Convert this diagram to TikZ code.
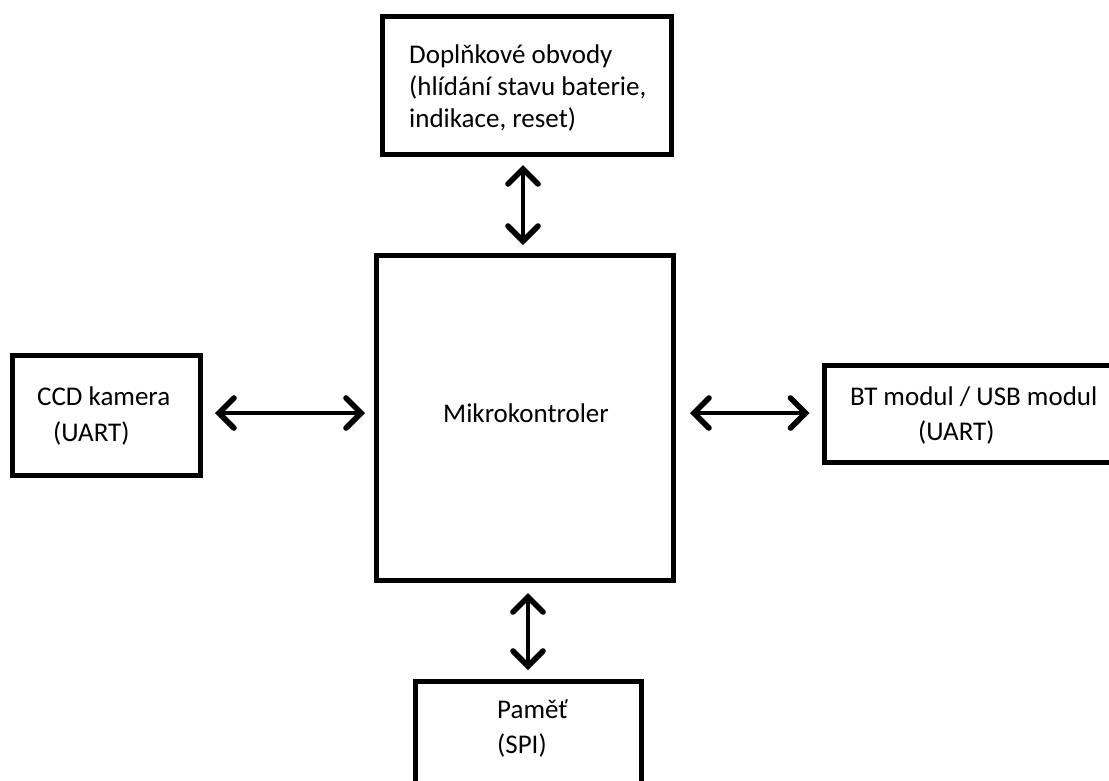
\documentclass[tikz,border=0pt]{standalone}
\usepackage{fontspec}
\setmainfont{Carlito}
\usetikzlibrary{arrows.meta,calc}
\begin{document}
\begin{tikzpicture}[x=1pt,y=-1pt,
  box/.style={draw=black,line width=5pt,inner sep=0pt,fill=none},
  lbl/.style={inner sep=0pt,anchor=base west,font=\fontsize{27}{32}\selectfont},
  tip/.tip={Straight Barb[length=15pt,width=30pt,line cap=round,line width=0pt 1.25]},
  arr/.style={line width=4.5pt,line cap=round,tip-tip}]
\clip (0,0) rectangle (1109,780);
\fill[white] (0,0) rectangle (1109,780);
% boxes
\node[box,minimum width=289pt,minimum height=138pt] (top) at (527,85.5) {};
\node[box,minimum width=297pt,minimum height=325pt] (mcu) at (525,418) {};
\node[box,minimum width=188pt,minimum height=120pt] (left) at (106.5,415.5) {};
\node[box,minimum width=306pt,minimum height=97pt] (right) at (977,414) {};
\node[box,minimum width=226pt,minimum height=139pt] (bottom) at (528.5,751) {};
% texts
\node[lbl] (t1) at (409,63) {Doplňkové obvody};
\node[lbl] (t2) at (409,95) {(hlídání stavu baterie,};
\node[lbl] (t3) at (409,127) {indikace, reset)};
\node[lbl] (m) at (443,422) {Mikrokontroler};
\node[lbl] (l1) at (37,405) {CCD kamera};
\node[lbl] (l2) at (53,441) {(UART)};
\node[lbl] (r1) at (850,405) {BT modul / USB modul};
\node[lbl] (r2) at (918,440) {(UART)};
\node[lbl] (b1) at (497,718) {Paměť};
\node[lbl] (b2) at (497,753) {(SPI)};
% connectors
\draw[arr] ($(top.south)+(-4,8)$) -- ($(mcu.north)+(-2,-8)$);
\draw[arr] ($(left.east)+(12,-2.5)$) -- ($(mcu.west)+(-9,-5)$);
\draw[arr] ($(mcu.east)+(14,-5)$) -- ($(right.west)+(-12,-1)$);
\draw[arr] ($(mcu.south)+(3,10)$) -- ($(bottom.north)+(-0.5,-9)$);
\end{tikzpicture}
\end{document}
